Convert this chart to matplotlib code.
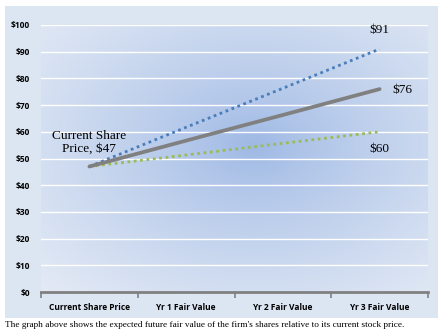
import numpy as np
import matplotlib.pyplot as plt
from matplotlib.patches import Rectangle

# categories and values
categories = ['Current Share Price', 'Yr 1 Fair Value', 'Yr 2 Fair Value', 'Yr 3 Fair Value']
high_case = [47, 61.7, 76.3, 91]
base_case = [47, 56.7, 66.3, 76]
low_case = [47, 51.3, 55.7, 60]
y_ticks = [0, 10, 20, 30, 40, 50, 60, 70, 80, 90, 100]

fig = plt.figure(figsize=(4.48, 3.35), dpi=100)
fig.patch.set_facecolor('white')

# light blue chart frame
frame = Rectangle((5 / 448, 1 - 318 / 335), 433 / 448, 312 / 335,
                  transform=fig.transFigure, facecolor='#dce6f2',
                  edgecolor='none', zorder=-5)
fig.add_artist(frame)

ax = fig.add_axes([41 / 448, 43 / 335, 387 / 448, 267 / 335])
ax.set_xlim(-0.5, 3.5)
ax.set_ylim(0, 100)

# radial gradient in plot area
gx, gy = np.meshgrid(np.linspace(0, 1, 300), np.linspace(0, 1, 300))
r = np.sqrt(((gx - 0.55) / 0.75) ** 2 + ((gy - 0.55) / 0.75) ** 2)
r = np.clip(r, 0, 1)
c_in = np.array([0x9d, 0xb8, 0xe4]) / 255
c_out = np.array([0xe2, 0xe9, 0xf5]) / 255
img = c_in[None, None, :] + (c_out - c_in)[None, None, :] * (r[..., None] ** 0.8)
ax.imshow(img, extent=[-0.5, 3.5, 0, 100], origin='lower', aspect='auto', zorder=0)

for y in y_ticks[1:]:
    ax.axhline(y, color='white', lw=1.0, zorder=1)

x = np.arange(len(categories))
ax.plot(x, high_case, color='#4a7ebb', lw=2.0, linestyle=(0, (1, 1.3)), zorder=3)
ax.plot(x, low_case, color='#9bbb59', lw=2.0, linestyle=(0, (1, 1.3)), zorder=3)
ax.plot(x, base_case, color='#808080', lw=2.7, zorder=4, solid_capstyle='round')

serif = 'Liberation Serif'
ax.text(0, 56, 'Current Share\nPrice, $47', family=serif, fontsize=9.5,
        ha='center', va='center', linespacing=1.0, zorder=5)
ax.text(3, 98, '$91', family=serif, fontsize=9.5, ha='center', va='center')
ax.text(3.24, 75.5, '$76', family=serif, fontsize=9.5, ha='center', va='center')
ax.text(3, 53.5, '$60', family=serif, fontsize=9.5, ha='center', va='center')

ax.set_xticks([-0.5, 0.5, 1.5, 2.5, 3.5])
ax.set_xticklabels([])
ax.set_xticks(x, minor=True)
ax.set_xticklabels(categories, minor=True, fontsize=6, fontweight='bold',
                   family='Open Sans')
ax.tick_params(axis='x', which='major', length=4, width=1.2, color='#808080')
ax.tick_params(axis='x', which='minor', length=0, pad=8)
ax.set_yticks(y_ticks)
ax.set_yticklabels(['$%d' % v for v in y_ticks], fontsize=6, fontweight='bold',
                   family='Open Sans')
ax.tick_params(axis='y', length=0, pad=8)

for s in ['top', 'right', 'left']:
    ax.spines[s].set_visible(False)
ax.spines['bottom'].set_color('#808080')
ax.spines['bottom'].set_linewidth(2)

fig.text(5 / 448, 1 - 325 / 335,
         "The graph above shows the expected future fair value of the firm's shares relative to its current stock price.",
         family=serif, fontsize=6.7, ha='left', va='center')

fig.savefig('out.png', dpi=100)
